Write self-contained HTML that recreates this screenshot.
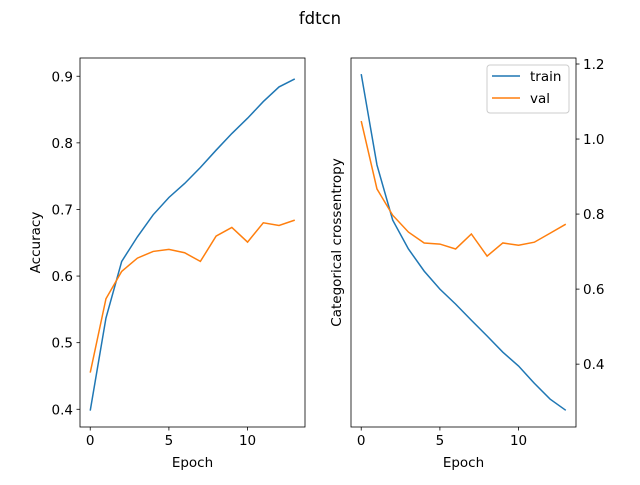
<!DOCTYPE html>
<html><head><meta charset="utf-8"><style>
body{margin:0;background:#fff}
svg text{font-family:"DejaVu Sans","Liberation Sans",sans-serif;fill:#000}
</style></head><body>
<svg id="c" width="640" height="480" font-size="13.5"></svg>
<script>
const epochs=[0,1,2,3,4,5,6,7,8,9,10,11,12,13];
const accTrain=[0.398,0.537,0.622,0.659,0.692,0.718,0.739,0.763,0.789,0.814,0.837,0.862,0.884,0.896];
const accVal=[0.455,0.566,0.607,0.627,0.637,0.640,0.635,0.622,0.660,0.673,0.651,0.680,0.676,0.684];
const lossTrain=[1.173,0.931,0.784,0.707,0.648,0.600,0.560,0.517,0.475,0.432,0.395,0.349,0.307,0.277];
const lossVal=[1.048,0.867,0.797,0.752,0.723,0.720,0.707,0.747,0.688,0.723,0.717,0.725,0.749,0.773];
const xTicks=[0,5,10];
const accTicks=[0.4,0.5,0.6,0.7,0.8,0.9];
const lossTicks=[0.4,0.6,0.8,1.0,1.2];
const NS='http://www.w3.org/2000/svg';
const svg=document.getElementById('c');
function el(t,a,p){const e=document.createElementNS(NS,t);for(const k in a)e.setAttribute(k,a[k]);(p||svg).appendChild(e);return e;}
function txt(s,a,p){const e=el('text',a,p);e.textContent=s;return e;}
const title=txt('fdtcn',{x:320,y:24,'text-anchor':'middle','font-size':'16.5'});


function panel(name,L,R,T,B,xs,ys,yTicks,fmt,right,train,val,ylabel){
  const g=el('g',{});
  
  
  const sx=v=>L+(R-L)*(v-xs[0])/(xs[1]-xs[0]);
  const sy=v=>B-(B-T)*(v-ys[0])/(ys[1]-ys[0]);
  xTicks.forEach(t=>{const x=sx(t);el('line',{x1:x,x2:x,y1:B,y2:B+3.5,stroke:'#000','stroke-width':0.8},g);txt(String(t),{x:x,y:B+18,'text-anchor':'middle'},g);});
  yTicks.forEach(t=>{const y=sy(t);if(right){el('line',{x1:R,x2:R+3.5,y1:y,y2:y,stroke:'#000','stroke-width':0.8},g);txt(fmt(t),{x:R+7,y:y+5},g);}else{el('line',{x1:L-3.5,x2:L,y1:y,y2:y,stroke:'#000','stroke-width':0.8},g);txt(fmt(t),{x:L-7,y:y+5,'text-anchor':'end'},g);}});
  const path=(d,c,n)=>{const p=el('polyline',{points:d.map((v,i)=>sx(epochs[i])+','+sy(v)).join(' '),fill:'none',stroke:c,'stroke-width':1.5},g);};
  path(train,'#1f77b4',name+'-train-line');
  path(val,'#ff7f0e',name+'-val-line');
  el('rect',{x:L,y:T,width:R-L,height:B-T,fill:'none',stroke:'#000','stroke-width':0.8},g);
  const xl=txt('Epoch',{x:(L+R)/2,y:B+40,'text-anchor':'middle'},g);
  
  
  const yx=right?L-10:L-40;
  const yl=txt(ylabel,{x:yx,y:(T+B)/2,'text-anchor':'middle',transform:`rotate(-90 ${yx} ${(T+B)/2})`},g);
  
  
}
panel('accuracy-panel',80,305,58,427,[-0.65,13.65],[0.3734,0.9274],accTicks,v=>v.toFixed(1),false,accTrain,accVal,'Accuracy');
panel('loss-panel',351,576,58,427,[-0.65,13.65],[0.2325,1.216],lossTicks,v=>v.toFixed(1),true,lossTrain,lossVal,'Categorical crossentropy');
const lg=el('g',{});


el('rect',{x:487,y:65,width:82,height:48,rx:3,fill:'#fff',stroke:'#ccc','stroke-width':1},lg);
el('line',{x1:492,x2:520,y1:76,y2:76,stroke:'#1f77b4','stroke-width':1.5},lg);
txt('train',{x:530,y:81},lg);
el('line',{x1:492,x2:520,y1:98,y2:98,stroke:'#ff7f0e','stroke-width':1.5},lg);
txt('val',{x:530,y:103},lg);
</script>
</body></html>
